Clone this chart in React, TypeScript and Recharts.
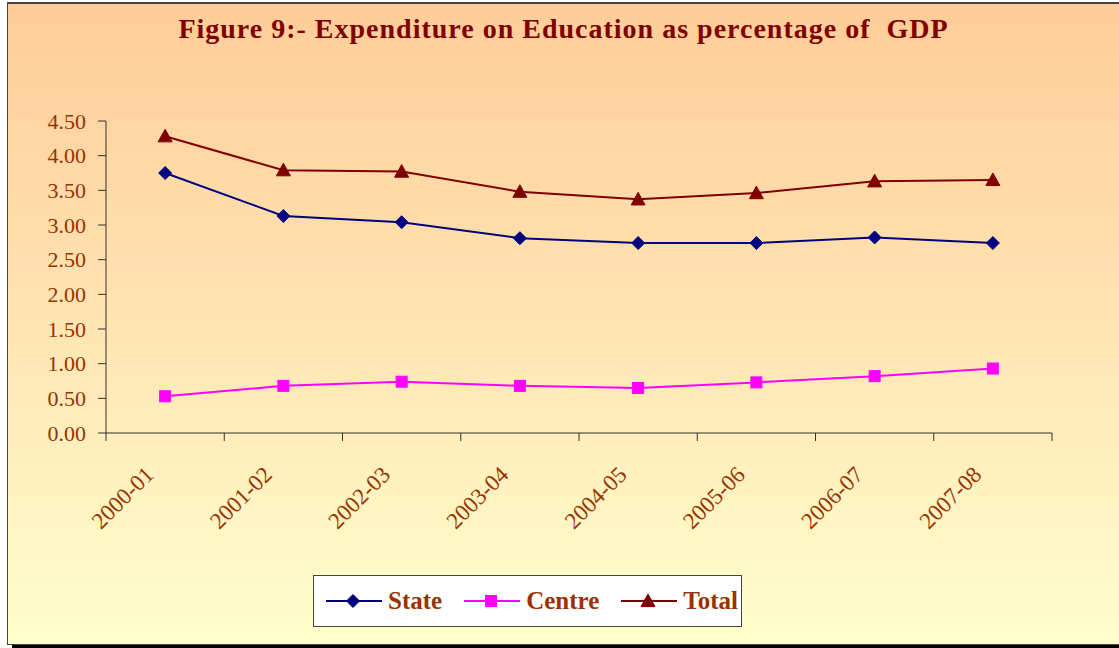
import React from 'react';
import { ComposedChart, Line, XAxis, YAxis } from 'recharts';

const years = ['2000-01', '2001-02', '2002-03', '2003-04', '2004-05', '2005-06', '2006-07', '2007-08'];
const stateShare = [3.75, 3.13, 3.04, 2.81, 2.74, 2.74, 2.82, 2.74];
const centreShare = [0.53, 0.68, 0.74, 0.68, 0.65, 0.73, 0.82, 0.93];
const totalShare = [4.28, 3.79, 3.77, 3.48, 3.37, 3.46, 3.63, 3.65];
const yTicks = [0, 0.5, 1, 1.5, 2, 2.5, 3, 3.5, 4, 4.5];

const data = years.map((year, i) => ({
  year,
  state: stateShare[i],
  centre: centreShare[i],
  total: totalShare[i],
}));

const STATE = '#000080';
const CENTRE = '#ff00ff';
const TOTAL = '#800000';
const LABEL = '#993300';
const AXIS = '#333333';
const SERIF = '"Liberation Serif", "Times New Roman", serif';

const Diamond = ({ cx, cy, color, r = 6.5 }: any) => (
  <path d={`M${cx},${cy - r}L${cx + r},${cy}L${cx},${cy + r}L${cx - r},${cy}Z`} fill={color} stroke={color} />
);
const Square = ({ cx, cy, color, r = 5.5 }: any) => (
  <rect x={cx - r} y={cy - r} width={r * 2} height={r * 2} fill={color} stroke={color} />
);
const Triangle = ({ cx, cy, color, r = 7 }: any) => (
  <path d={`M${cx},${cy - r}L${cx + r},${cy + r * 0.8}L${cx - r},${cy + r * 0.8}Z`} fill={color} stroke={color} />
);

const XTick = (props: any) => {
  const { x, y, payload, index } = props;
  const half = payload && payload.offset ? payload.offset : 59;
  const tx = x - 10;
  const ty = y + 35;
  return (
    <g>
      <line x1={x - half} y1={y - 8} x2={x - half} y2={y} stroke={AXIS} />
      {index === years.length - 1 && <line x1={x + half} y1={y - 8} x2={x + half} y2={y} stroke={AXIS} />}
      <text
        x={tx}
        y={ty}
        transform={`rotate(-45, ${tx}, ${ty})`}
        textAnchor="end"
        fill={LABEL}
        fontFamily={SERIF}
        fontSize={23}
      >
        {payload.value}
      </text>
    </g>
  );
};

const LegendItem = ({ label, color, Icon }: any) => (
  <div style={{ display: 'flex', alignItems: 'center', marginRight: 22 }}>
    <svg width={56} height={20}>
      <line x1={0} y1={10} x2={56} y2={10} stroke={color} strokeWidth={2} />
      <Icon cx={27} cy={10} color={color} />
    </svg>
    <span style={{ marginLeft: 6, fontFamily: SERIF, fontWeight: 'bold', fontSize: 25, color: LABEL }}>{label}</span>
  </div>
);

export default function App() {
  return (
    <div style={{ position: 'absolute', left: 0, top: 0, width: 1119, height: 648, overflow: 'hidden' }}>
      <div
        style={{
          position: 'absolute',
          left: 7,
          top: 2,
          width: 1130,
          height: 640,
          border: '1px solid #444',
          borderTopWidth: 2,
          background: 'linear-gradient(to bottom, #ffcc99 0%, #ffe2b0 45%, #ffffcc 100%)',
          boxShadow: '5px 5px 0 #000',
        }}
      />
      <div
        style={{
          position: 'absolute',
          left: 0,
          top: 13,
          width: 1127,
          textAlign: 'center',
          fontFamily: SERIF,
          fontWeight: 'bold',
          fontSize: 28,
          letterSpacing: 1,
          color: TOTAL,
        }}
      >
        Figure 9:- Expenditure on Education as percentage of&nbsp; GDP
      </div>
      <div style={{ position: 'absolute', left: 0, top: 0 }}>
        <ComposedChart width={1119} height={648} data={data} margin={{ top: 121, right: 67, left: 46, bottom: 155 }}>
          <XAxis
            dataKey="year"
            scale="band"
            height={60}
            tick={<XTick />}
            tickLine={false}
            tickSize={8}
            tickMargin={0}
            interval={0}
            axisLine={{ stroke: AXIS }}
          />
          <YAxis
            width={60}
            domain={[0, 4.5]}
            ticks={yTicks}
            tickFormatter={(v: number) => v.toFixed(2)}
            tickSize={8}
            tickMargin={12}
            axisLine={{ stroke: AXIS }}
            tickLine={{ stroke: AXIS }}
            tick={{ fill: LABEL, fontFamily: SERIF, fontSize: 22 }}
          />
          <Line
            dataKey="state"
            stroke={STATE}
            strokeWidth={2}
            isAnimationActive={false}
            dot={(p: any) => <Diamond key={`s${p.index}`} cx={p.cx} cy={p.cy} color={STATE} />}
          />
          <Line
            dataKey="centre"
            stroke={CENTRE}
            strokeWidth={2}
            isAnimationActive={false}
            dot={(p: any) => <Square key={`c${p.index}`} cx={p.cx} cy={p.cy} color={CENTRE} />}
          />
          <Line
            dataKey="total"
            stroke={TOTAL}
            strokeWidth={2}
            isAnimationActive={false}
            dot={(p: any) => <Triangle key={`t${p.index}`} cx={p.cx} cy={p.cy} color={TOTAL} />}
          />
        </ComposedChart>
      </div>
      <div
        style={{
          position: 'absolute',
          left: 313,
          top: 575,
          width: 429,
          height: 52,
          background: '#fff',
          border: '1px solid #444',
          display: 'flex',
          alignItems: 'center',
          paddingLeft: 12,
          boxSizing: 'border-box',
        }}
      >
        <LegendItem label="State" color={STATE} Icon={Diamond} />
        <LegendItem label="Centre" color={CENTRE} Icon={Square} />
        <LegendItem label="Total" color={TOTAL} Icon={Triangle} />
      </div>
    </div>
  );
}
